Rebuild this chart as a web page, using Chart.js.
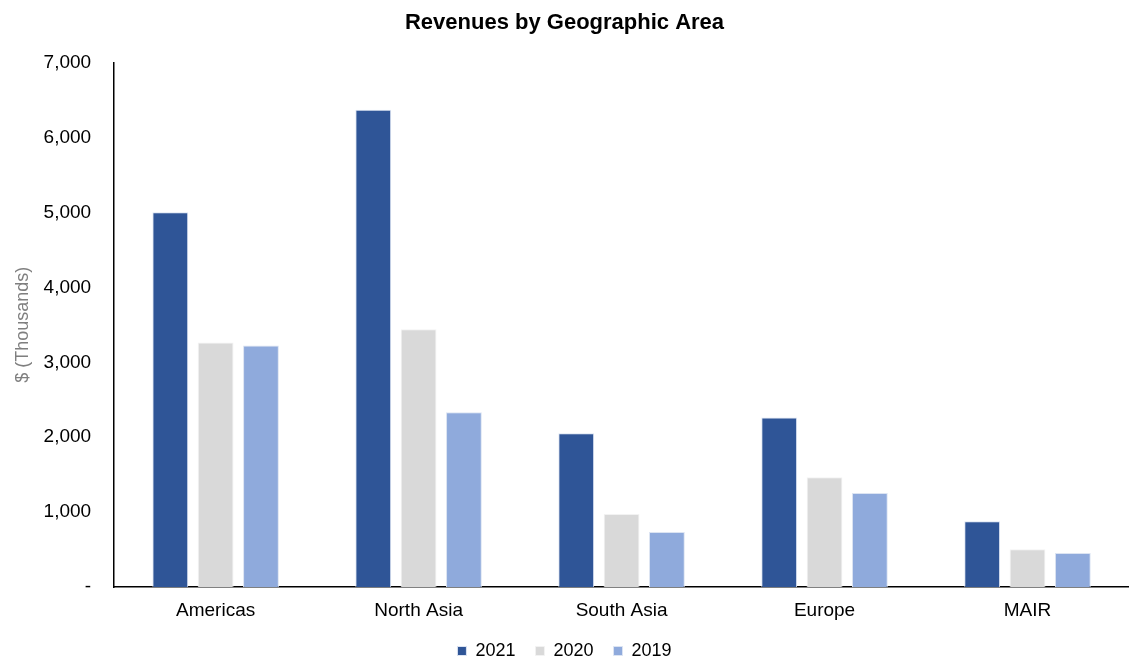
<!DOCTYPE html>
<html>
<head>
<meta charset="utf-8">
<script src="https://cdn.jsdelivr.net/npm/chart.js@4"></script>
<style>
  html, body { margin: 0; padding: 0; background: #fff; }
  #wrap { width: 1129px; height: 657px; }
</style>
</head>
<body>
<div id="wrap"><canvas id="geoChart" width="1129" height="657"></canvas></div>
<script>
// categorias eje X
const regiones = ["Americas", "North Asia", "South Asia", "Europe", "MAIR"];

// valores por año ($ miles)
const valores2021 = [5000, 6370, 2055, 2265, 880];
const valores2020 = [3265, 3440, 975, 1465, 505];
const valores2019 = [3225, 2335, 735, 1255, 455];

const fuente = "'Liberation Sans', Arial, sans-serif";

const ctx = document.getElementById("geoChart").getContext("2d");

new Chart(ctx, {
    type: "bar",
    data: {
        labels: regiones,
        datasets: [
            { label: "2021", data: valores2021, backgroundColor: "#2F5597", borderColor: "#DCE4F2", borderWidth: 1 },
            { label: "2020", data: valores2020, backgroundColor: "#D9D9D9", borderColor: "#F2F2F2", borderWidth: 1 },
            { label: "2019", data: valores2019, backgroundColor: "#8FAADC", borderColor: "#DCE4F2", borderWidth: 1 }
        ]
    },
    options: {
        responsive: false,
        animation: false,
        datasets: {
            bar: { categoryPercentage: 0.67, barPercentage: 0.79 }
        },
        layout: { padding: { left: 0, right: 0, top: 0, bottom: -13 } },
        plugins: {
            title: {
                display: true,
                text: "Revenues by Geographic Area",
                color: "#000",
                font: { family: fuente, size: 22, weight: "bold" },
                padding: { top: 10, bottom: 26 }
            },
            legend: {
                position: "bottom",
                labels: {
                    color: "#000",
                    font: { family: fuente, size: 18 },
                    boxWidth: 9,
                    boxHeight: 9,
                    padding: 20
                }
            },
            tooltip: { enabled: false }
        },
        scales: {
            x: {
                grid: { display: false, drawTicks: false },
                border: { color: "#000", width: 1.5 },
                ticks: { color: "#000", font: { family: fuente, size: 19 }, padding: 12 },
                // chart.js cuenta el padding dos veces
                afterFit: s => { s.height -= s.options.ticks.padding; }
            },
            y: {
                min: 0,
                max: 7000,
                grid: { display: false, drawTicks: false },
                border: { color: "#000", width: 1.5 },
                title: {
                    display: true,
                    text: "$ (Thousands)",
                    color: "#7F7F7F",
                    font: { family: fuente, size: 18 },
                    padding: { top: 12, bottom: 10 }
                },
                ticks: {
                    stepSize: 1000,
                    color: "#000",
                    font: { family: fuente, size: 19 },
                    padding: 23,
                    callback: v => v === 0 ? "-" : v.toLocaleString("en-US")
                },
                afterFit: s => { s.width -= s.options.ticks.padding; }
            }
        }
    }
});
</script>
</body>
</html>
